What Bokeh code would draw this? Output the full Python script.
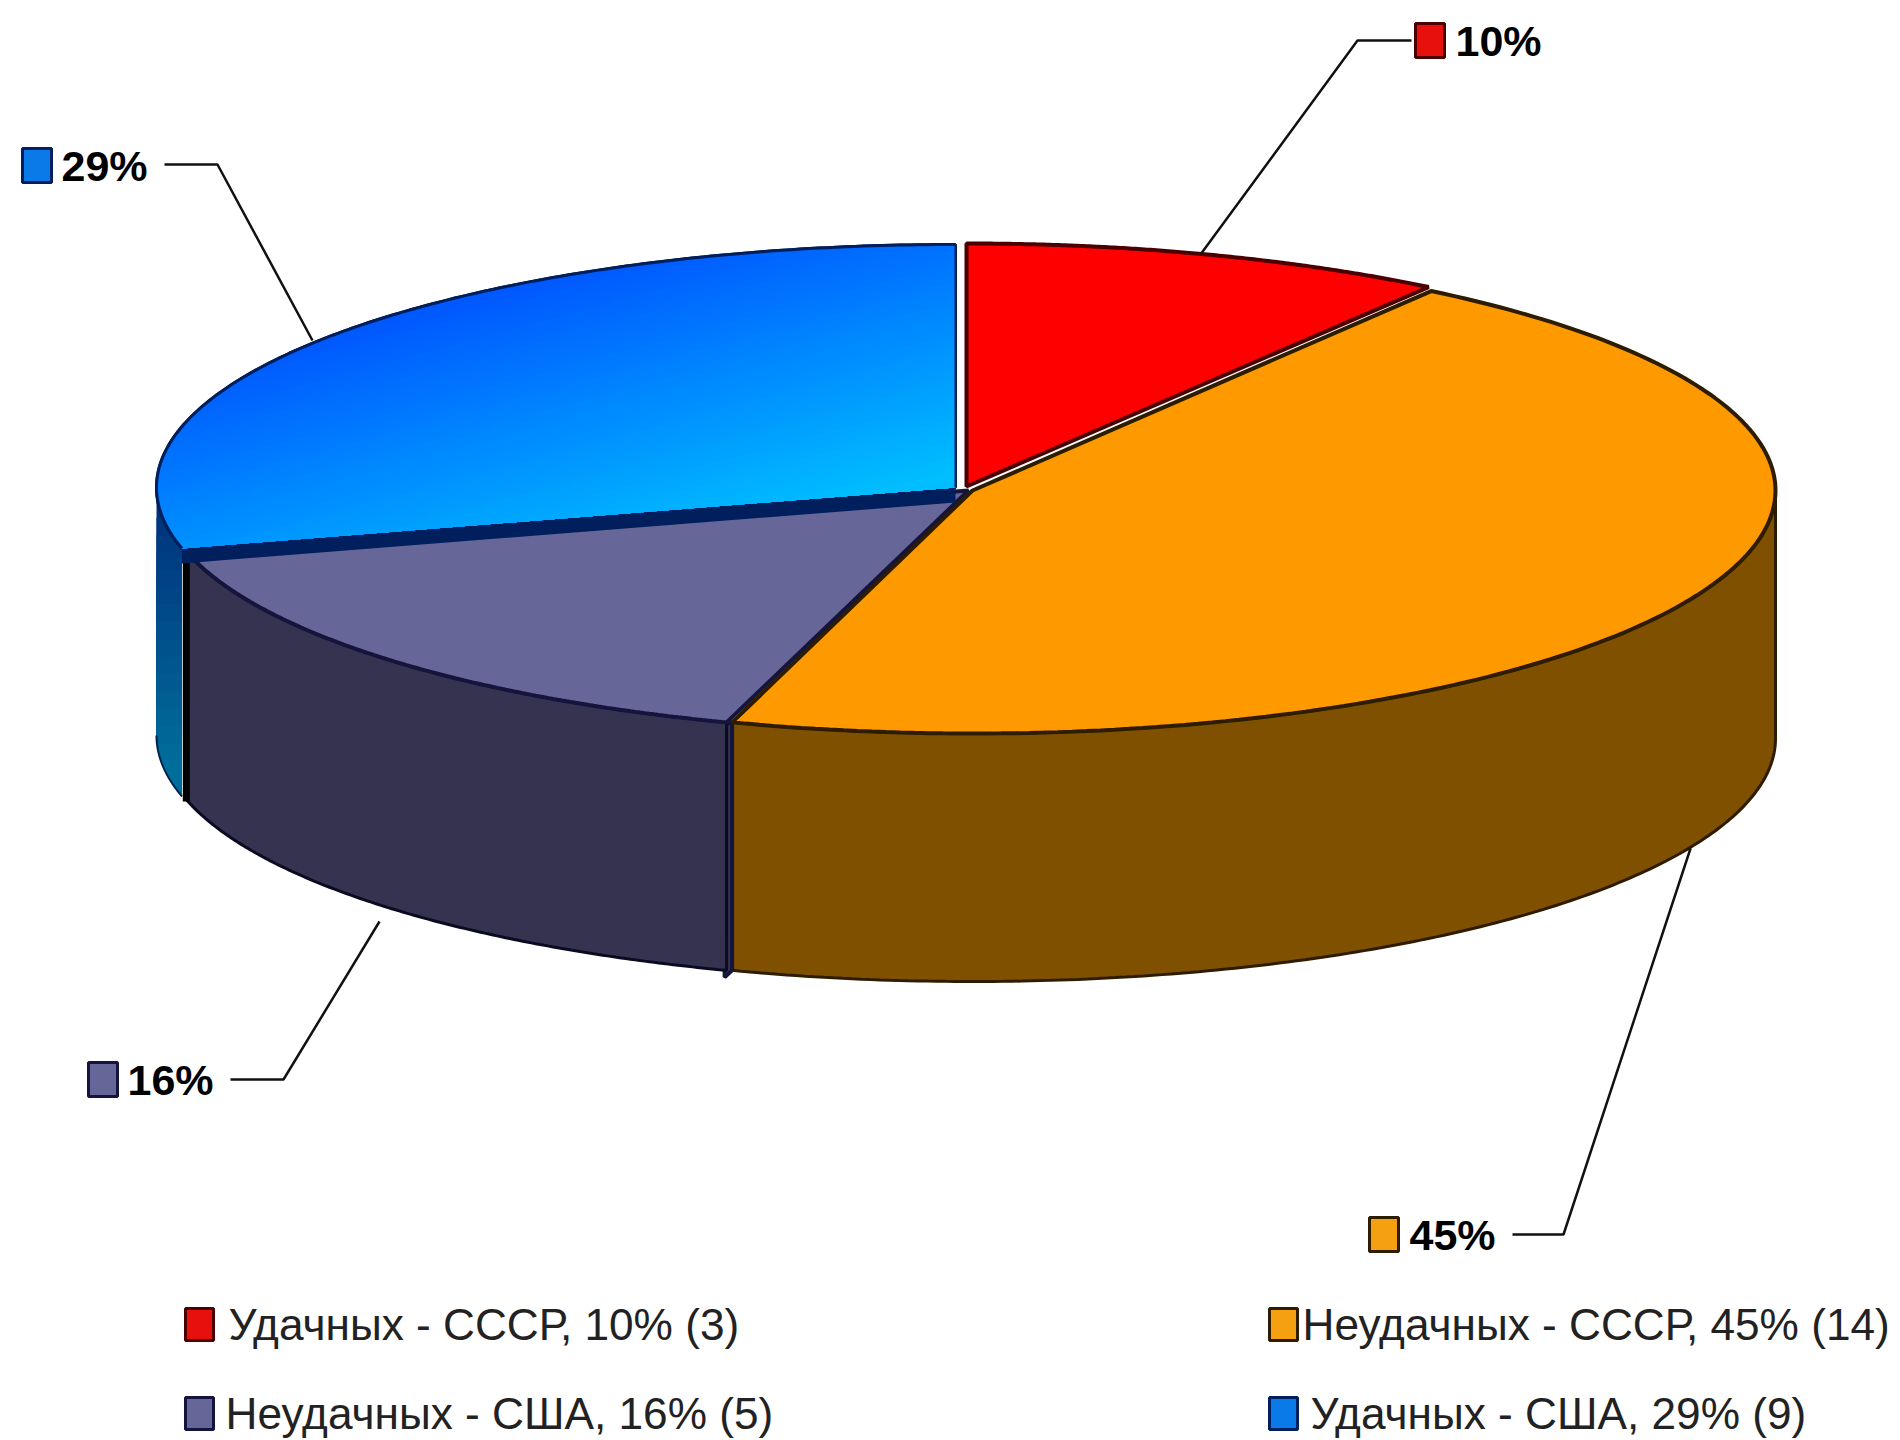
import numpy as np
from bokeh.plotting import figure
from bokeh.models import Range1d
from bokeh.core.properties import value
from bokeh.embed import file_html
from bokeh.resources import INLINE

# ---- chart values -------------------------------------------------
names = ["Удачных - СССР", "Неудачных - СССР", "Неудачных - США", "Удачных - США"]
counts = [3, 14, 5, 9]
percents = [10, 45, 16, 29]
top_colors = ["#ff0000", "#ff9900", "#666699", "#0088ff"]
side_colors = ["#800000", "#7f5000", "#353350", "#004a88"]
edge_colors = ["#4a0000", "#2e1c00", "#14143c", "#001f5c"]
swatch_colors = ["#e8100c", "#f4a010", "#666699", "#0a7ae8"]

W, H = 1900, 1440
FONT = "Liberation Sans"

p = figure(width=W, height=H, output_backend="svg", toolbar_location=None,
           x_range=Range1d(0, W), y_range=Range1d(H, 0),
           min_border=0, outline_line_color=None, background_fill_color="white",
           border_fill_color="white")
p.axis.visible = False
p.grid.visible = False

geom = [dict(cx=966, cy=486, rx=809),
        dict(cx=972, cy=490, rx=803),
        dict(cx=968, cy=490, rx=808),
        dict(cx=955, cy=487, rx=799)]
RY, DEPTH = 243, 248

frac = np.cumsum([0] + counts) / sum(counts)
ang = frac * 2 * np.pi


def rim(g, a0, a1, n=160, dy=0):
    t = np.linspace(a0, a1, n)
    return g["cx"] + g["rx"] * np.sin(t), g["cy"] - RY * np.cos(t) + dy


def wedge(i):
    g = geom[i]
    x, y = rim(g, ang[i], ang[i + 1])
    return np.r_[g["cx"], x], np.r_[g["cy"], y]


def side(i, a0, a1):
    g = geom[i]
    x, y = rim(g, a0, a1)
    xb, yb = rim(g, a1, a0, dy=DEPTH)
    return np.r_[x, xb], np.r_[y, yb]


def clip(x, y, a, b, c):
    """keep the part of a polygon where a*x + b*y >= c"""
    ox, oy = [], []
    n = len(x)
    for k in range(n):
        x0, y0, x1, y1 = x[k], y[k], x[(k + 1) % n], y[(k + 1) % n]
        d0, d1 = a * x0 + b * y0 - c, a * x1 + b * y1 - c
        if d0 >= 0:
            ox.append(x0); oy.append(y0)
        if d0 * d1 < 0:
            s = d0 / (d0 - d1)
            ox.append(x0 + s * (x1 - x0)); oy.append(y0 + s * (y1 - y0))
    return ox, oy


def gradient(x, y, a, b, c0, c1, rgb0, rgb1, steps=40):
    for k in range(steps):
        s = k / (steps - 1)
        cx, cy = clip(x, y, a, b, c0 + s * (c1 - c0))
        if len(cx) < 3:
            continue
        col = tuple(int(round(rgb0[j] + s * (rgb1[j] - rgb0[j]))) for j in range(3))
        p.patch(cx, cy, fill_color="#%02x%02x%02x" % col, line_color=None)


# ---- sides ----------------------------------------------------------
sx, sy = side(1, np.pi / 2, ang[2])
p.patch(sx, sy, fill_color=side_colors[1], line_color=edge_colors[1], line_width=3)

gp, go = geom[2], geom[1]
px0, py0 = rim(gp, ang[2], ang[2], n=1)
ox0, oy0 = rim(go, ang[2], ang[2], n=1)
p.patch([px0[0] - 2, ox0[0], ox0[0], px0[0] - 2],
        [py0[0] + 2, oy0[0], oy0[0] + DEPTH, py0[0] + DEPTH + 7],
        fill_color=side_colors[2], line_color=edge_colors[2], line_width=4)

sx, sy = side(2, ang[2], ang[3])
p.patch(sx, sy, fill_color=side_colors[2], line_color="#0a0a20", line_width=3)

sx, sy = side(3, ang[3], 1.5 * np.pi)
gradient(sx, sy, 0, 1, 500, 760, (0, 50, 125), (0, 110, 155), steps=16)
bbx, bby = rim(geom[3], ang[3], 1.5 * np.pi, dy=DEPTH)
p.line(bbx, bby, line_color="#00204c", line_width=2)
gl = rim(geom[2], ang[3], ang[3], n=1)
p.line([gl[0][0], gl[0][0]], [gl[1][0] + 8, gl[1][0] + DEPTH + 2], line_color="black", line_width=7)

# ---- top faces ------------------------------------------------------
x, y = wedge(2)
p.patch(x, y, fill_color=top_colors[2], line_color=edge_colors[2], line_width=4)
x, y = wedge(1)
p.patch(x, y, fill_color=top_colors[1], line_color=edge_colors[1], line_width=4)
x, y = wedge(0)
p.patch(x, y, fill_color=top_colors[0], line_color=edge_colors[0], line_width=4)

gb = geom[3]
ex, ey = rim(gb, ang[3], ang[3], n=1)
p.patch([gb["cx"], ex[0], ex[0], gb["cx"]], [gb["cy"], ey[0], ey[0] + 15, gb["cy"] + 15],
        fill_color=edge_colors[3], line_color=None)
x, y = wedge(3)
p.patch(x, y, fill_color="#0058ff", line_color=edge_colors[3], line_width=3)
gradient(x, y, 0.08, 0.3, 0.08 * 300 + 0.3 * 340, 0.08 * 950 + 0.3 * 470,
         (0, 88, 255), (0, 190, 255), steps=48)
p.line(x[1:], y[1:], line_color=edge_colors[3], line_width=3)
p.line([x[-1], x[0], x[0]], [y[-1], y[0], geom[3]["cy"] - RY], line_color=edge_colors[3], line_width=2)

# ---- leaders, swatches, percentage labels ---------------------------
leaders = [([1200, 1357, 1411], [254, 40, 40]),
           ([1690, 1563, 1512], [848, 1234, 1234]),
           ([379, 283, 230], [921, 1079, 1079]),
           ([312, 217, 164], [340, 164, 164])]
for lx, ly in leaders:
    p.line(lx, ly, line_color="#111111", line_width=2.5)

label_pos = [(1415, 1455, 40), (1369, 1409, 1234), (88, 127, 1079), (22, 61, 165)]
for i, (sxx, tx, yy) in enumerate(label_pos):
    p.quad(left=[sxx], right=[sxx + 29], top=[yy - 17], bottom=[yy + 17],
           fill_color=swatch_colors[i], line_color=edge_colors[i], line_width=3)
    p.text([tx], [yy], text=[f"{percents[i]}%"], text_font=value(FONT), text_font_style="bold",
           text_font_size="43px", text_color="#000000", text_baseline="middle", text_align="left")

# ---- legend -----------------------------------------------------------
legend_pos = [(185, 228, 1324), (1269, 1302, 1324), (185, 225, 1413), (1269, 1310, 1413)]
for i, (sxx, tx, yy) in enumerate(legend_pos):
    p.quad(left=[sxx], right=[sxx + 28], top=[yy - 16], bottom=[yy + 16],
           fill_color=swatch_colors[i], line_color=edge_colors[i], line_width=3)
    p.text([tx], [yy], text=[f"{names[i]}, {percents[i]}% ({counts[i]})"], text_font=value(FONT),
           text_font_size="44.2px", text_color="#222222", text_baseline="middle", text_align="left")

open("out.html", "w").write(file_html(p, INLINE))
